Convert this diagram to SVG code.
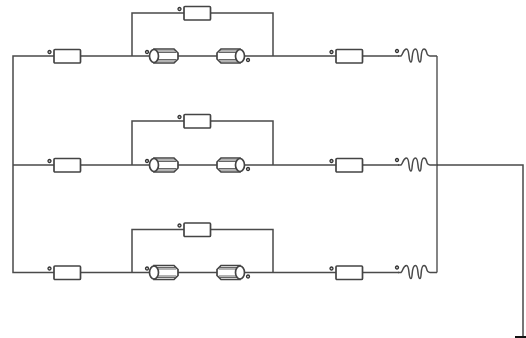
<svg xmlns="http://www.w3.org/2000/svg" xmlns:xlink="http://www.w3.org/1999/xlink" width="526" height="338" viewBox="0 0 526 338">
<style>
.w{fill:none;stroke:#4a4a4a;stroke-width:1.5}
.b{fill:#fff;stroke:#444;stroke-width:1.7}
.d{fill:#ddd;stroke:#333;stroke-width:1.3}
.h{fill:none;stroke:#666;stroke-width:1.2}
</style>
<defs>
<g id="res"><rect class="b" x="0" y="-6.500" width="26.500" height="13.500" rx="1"/><circle class="d" cx="-4.500" cy="-4" r="1.500"/></g>
<g id="coil"><path class="w" d="M-2 0H1C3-1 3-7 6.500-7C10-7 8 6 11 6C13 6 11-7 15.500-7C19-7 17 6 20 6C22 6 20-7 24-7C28-7 25 0 30 0H37"/><circle class="d" cx="-3" cy="-5" r="1.500"/></g>
<g id="cylL"><path class="b" d="M154-7H174L178-3V3L174 7H154Z"/><path class="h" d="M156-5H175M156-3.500H176M156 3.500H176M156 5H175"/><ellipse class="b" cx="154" cy="0" rx="4.500" ry="6.500"/><circle class="d" cx="147" cy="-4" r="1.500"/></g>
<g id="cylR"><path class="b" d="M240-7H221L217-3V3L221 7H240Z"/><path class="h" d="M220-5H239M219-3.500H239M219 3.500H239M220 5H239"/><ellipse class="b" cx="240" cy="0" rx="4.500" ry="6.500"/><circle class="d" cx="248" cy="4" r="1.500"/></g>
</defs>
<g id="connectors">
<path class="w" d="M54 56H13V272.500H54M13 165H54"/>
<path class="w" d="M80 56H336M363 56H399M132 56V13H184M211 13H273V56"/>
<path class="w" d="M80 165H336M363 165H399M132 165V121H184M211 121H273V165"/>
<path class="w" d="M80 272.500H336M363 272.500H399M132 272.500V229.500H184M211 229.500H273V272.500"/>
<path class="w" d="M437 165H523V336"/>
<path fill="none" stroke="#333" stroke-width="1.200" d="M437 56V272.500"/>
<path fill="none" stroke="#111" stroke-width="2" d="M515 337H526"/>
</g>
<g id="r1a"><use xlink:href="#res" x="54" y="56"/></g>
<g id="r1b"><use xlink:href="#res" x="184" y="13"/></g>
<g id="c1a"><use xlink:href="#cylL" y="56"/></g>
<g id="c1b"><use xlink:href="#cylR" y="56"/></g>
<g id="r1c"><use xlink:href="#res" x="336" y="56"/></g>
<g id="l1"><use xlink:href="#coil" x="400" y="56"/></g>
<g id="r2a"><use xlink:href="#res" x="54" y="165"/></g>
<g id="r2b"><use xlink:href="#res" x="184" y="121"/></g>
<g id="c2a"><use xlink:href="#cylL" y="165"/></g>
<g id="c2b"><use xlink:href="#cylR" y="165"/></g>
<g id="r2c"><use xlink:href="#res" x="336" y="165"/></g>
<g id="l2"><use xlink:href="#coil" x="400" y="165"/></g>
<g id="r3a"><use xlink:href="#res" x="54" y="272.500"/></g>
<g id="r3b"><use xlink:href="#res" x="184" y="229.500"/></g>
<g id="c3a"><use xlink:href="#cylL" y="272.500"/></g>
<g id="c3b"><use xlink:href="#cylR" y="272.500"/></g>
<g id="r3c"><use xlink:href="#res" x="336" y="272.500"/></g>
<g id="l3"><use xlink:href="#coil" x="400" y="272.500"/></g>
</svg>
